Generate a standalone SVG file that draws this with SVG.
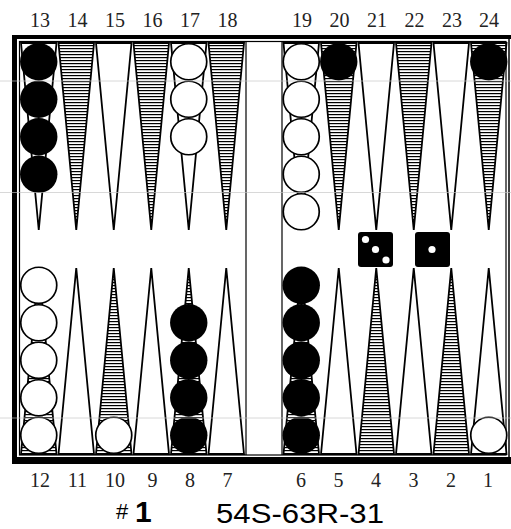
<svg xmlns="http://www.w3.org/2000/svg" width="511" height="529" viewBox="0 0 511 529">
<defs>
<pattern id="hatch" patternUnits="userSpaceOnUse" x="0" y="0" width="8" height="3">
<rect x="0" y="0" width="8" height="1.2" fill="#000"/>
</pattern>
<polygon id="tt" points="1,43 36.5,43 18.75,230"/>
<polygon id="tb" points="1,454 36.5,454 18.75,268"/>
<circle id="w" r="18" fill="#fff" stroke="#000" stroke-width="1.7"/>
<circle id="b" r="18.7" fill="#000"/>
</defs>
<style>
.num{font-family:"Liberation Serif","Times New Roman",serif;font-size:20px;fill:#222;text-anchor:middle}
.pw{fill:#fff;stroke:#000;stroke-width:1.8;stroke-linejoin:miter}
.ph{fill:url(#hatch);stroke:#000;stroke-width:1.8}
.thin{fill:none;stroke:#000;stroke-width:1.2}
.pip{fill:#fff}
.faint{stroke:#c4c4c4;stroke-width:1;opacity:0.65}
</style>
<rect width="511" height="529" fill="#fff"/>

<g id="board">
<rect x="12" y="35" width="499" height="4" fill="#000"/>
<rect x="12" y="35" width="5" height="429" fill="#000"/>
<rect x="12" y="457" width="499" height="7" fill="#000"/>
<rect x="19.5" y="41.5" width="486.5" height="413.5" class="thin"/>
<line x1="509" y1="39" x2="509" y2="457" stroke="#000" stroke-width="1.5"/>
<line x1="246" y1="41.5" x2="246" y2="455" stroke="#000" stroke-width="1.2"/>
<line x1="282" y1="41.5" x2="282" y2="455" stroke="#000" stroke-width="1.2"/>
</g>

<g id="points">
<use href="#tt" x="20" class="pw"/>
<use href="#tt" x="57.5" class="ph"/>
<use href="#tt" x="95" class="pw"/>
<use href="#tt" x="132.5" class="ph"/>
<use href="#tt" x="170" class="pw"/>
<use href="#tt" x="207.5" class="ph"/>
<use href="#tt" x="282.5" class="pw"/>
<use href="#tt" x="320" class="ph"/>
<use href="#tt" x="357.5" class="pw"/>
<use href="#tt" x="395" class="ph"/>
<use href="#tt" x="432.5" class="pw"/>
<use href="#tt" x="470" class="ph"/>
<use href="#tb" x="20" class="ph"/>
<use href="#tb" x="57.5" class="pw"/>
<use href="#tb" x="95" class="ph"/>
<use href="#tb" x="132.5" class="pw"/>
<use href="#tb" x="170" class="ph"/>
<use href="#tb" x="207.5" class="pw"/>
<use href="#tb" x="282.5" class="ph"/>
<use href="#tb" x="320" class="pw"/>
<use href="#tb" x="357.5" class="ph"/>
<use href="#tb" x="395" class="pw"/>
<use href="#tb" x="432.5" class="ph"/>
<use href="#tb" x="470" class="pw"/>
</g>

<g id="checkers">
<use href="#b" x="38.75" y="61.75"/>
<use href="#b" x="38.75" y="99.25"/>
<use href="#b" x="38.75" y="136.75"/>
<use href="#b" x="38.75" y="174.25"/>
<use href="#w" x="188.75" y="61.75"/>
<use href="#w" x="188.75" y="99.25"/>
<use href="#w" x="188.75" y="136.75"/>
<use href="#w" x="301.25" y="61.75"/>
<use href="#w" x="301.25" y="99.25"/>
<use href="#w" x="301.25" y="136.75"/>
<use href="#w" x="301.25" y="174.25"/>
<use href="#w" x="301.25" y="211.75"/>
<use href="#b" x="338.75" y="61.75"/>
<use href="#b" x="488.75" y="61.75"/>
<use href="#w" x="38.75" y="435.25"/>
<use href="#w" x="38.75" y="397.75"/>
<use href="#w" x="38.75" y="360.25"/>
<use href="#w" x="38.75" y="322.75"/>
<use href="#w" x="38.75" y="285.25"/>
<use href="#w" x="113.75" y="435.25"/>
<use href="#b" x="188.75" y="435.25"/>
<use href="#b" x="188.75" y="397.75"/>
<use href="#b" x="188.75" y="360.25"/>
<use href="#b" x="188.75" y="322.75"/>
<use href="#b" x="301.25" y="435.25"/>
<use href="#b" x="301.25" y="397.75"/>
<use href="#b" x="301.25" y="360.25"/>
<use href="#b" x="301.25" y="322.75"/>
<use href="#b" x="301.25" y="285.25"/>
<use href="#w" x="488.75" y="435.25"/>
</g>

<g id="dice">
<rect x="358" y="232" width="35" height="35" rx="3" fill="#000"/>
<circle class="pip" cx="365.5" cy="239.5" r="3.6"/>
<circle class="pip" cx="375.5" cy="249.5" r="3.6"/>
<circle class="pip" cx="386" cy="260" r="3.6"/>
<rect x="415" y="232" width="35" height="35" rx="3" fill="#000"/>
<circle class="pip" cx="432" cy="249.5" r="3.6"/>
</g>

<g id="faint-lines">
<line class="faint" x1="0" y1="81" x2="511" y2="81"/>
<line class="faint" x1="0" y1="192.5" x2="511" y2="192.5"/>
<line class="faint" x1="0" y1="418" x2="511" y2="418"/>
</g>

<g id="labels-top">
<text class="num" x="40" y="27">13</text>
<text class="num" x="77.5" y="27">14</text>
<text class="num" x="115" y="27">15</text>
<text class="num" x="152.5" y="27">16</text>
<text class="num" x="190" y="27">17</text>
<text class="num" x="227.5" y="27">18</text>
<text class="num" x="302" y="27">19</text>
<text class="num" x="339.5" y="27">20</text>
<text class="num" x="377" y="27">21</text>
<text class="num" x="414.5" y="27">22</text>
<text class="num" x="452" y="27">23</text>
<text class="num" x="489" y="27">24</text>
</g>
<g id="labels-bottom">
<text class="num" x="40" y="487">12</text>
<text class="num" x="77.5" y="487">11</text>
<text class="num" x="115" y="487">10</text>
<text class="num" x="152.5" y="487">9</text>
<text class="num" x="190" y="487">8</text>
<text class="num" x="227.5" y="487">7</text>
<text class="num" x="301" y="487">6</text>
<text class="num" x="338.5" y="487">5</text>
<text class="num" x="376" y="487">4</text>
<text class="num" x="413.5" y="487">3</text>
<text class="num" x="451" y="487">2</text>
<text class="num" x="488" y="487">1</text>
</g>
<g id="caption" font-family="'Liberation Sans',Arial,sans-serif" fill="#000">
<text x="116" y="519" font-size="22">#</text>
<text x="135" y="522" font-size="30" font-weight="bold">1</text>
<text x="216" y="523" font-size="28" textLength="168" lengthAdjust="spacingAndGlyphs">54S-63R-31</text>
</g>
</svg>
